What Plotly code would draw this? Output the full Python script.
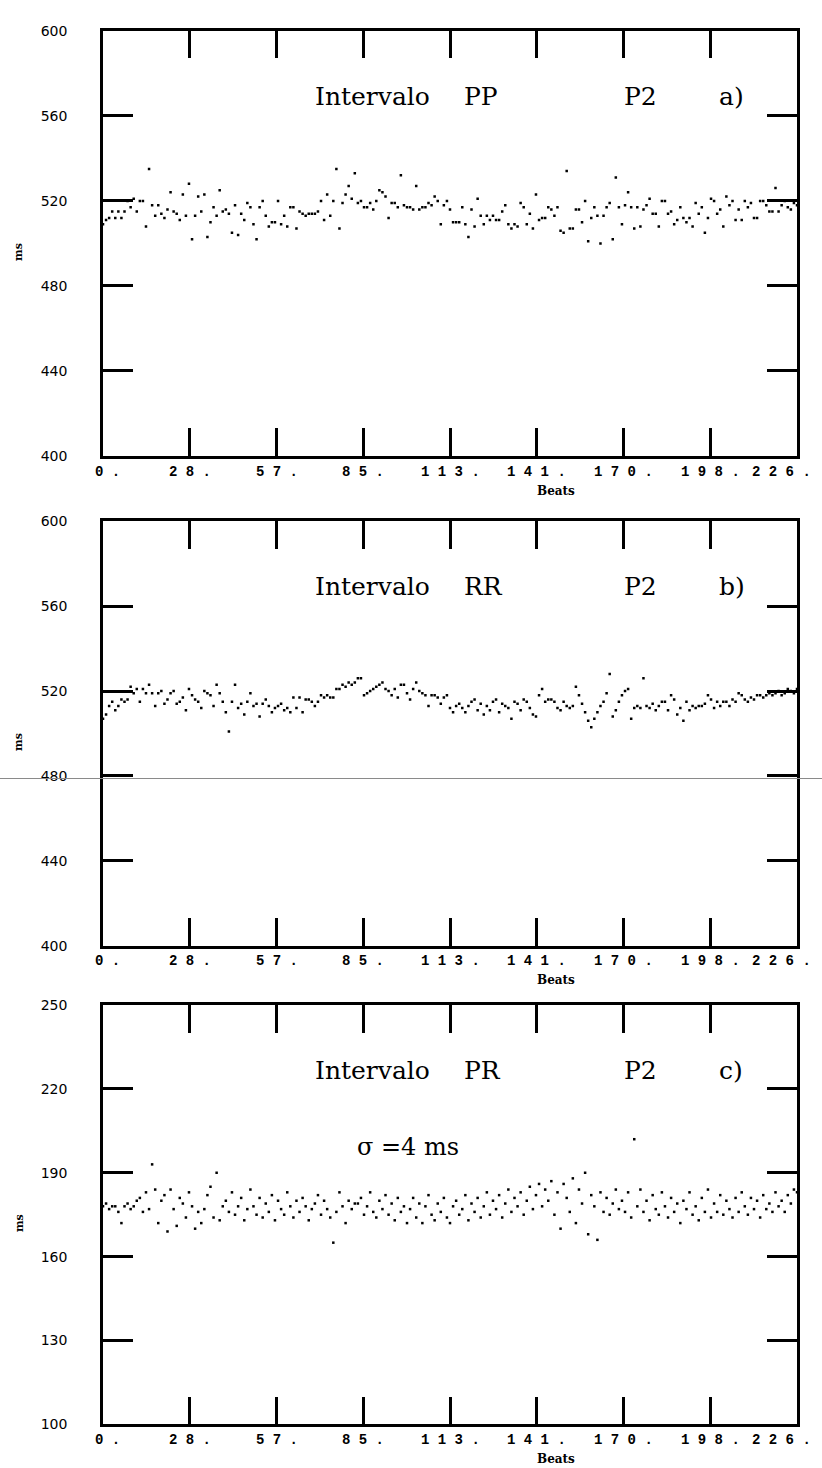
import plotly.graph_objects as go

# Beat-to-beat intervals (ms), patient P2
pp_ms = [509,
    511,512,515,512,515,512,515,520,517,521,515,520,520,508,535,518,513,518,514,512,
    516,524,515,514,511,523,513,528,502,513,522,515,523,503,510,517,513,525,515,516,
    514,505,518,504,514,511,519,517,509,502,517,520,513,508,510,510,520,509,513,508,
    517,517,507,515,514,513,514,514,514,515,520,511,523,513,520,535,507,519,523,527,
    521,533,519,520,517,517,519,516,520,525,524,522,512,519,519,517,532,518,517,517,
    516,527,516,517,517,519,518,522,520,509,518,520,516,510,510,510,517,
    509,503,516,508,521,513,509,513,511,513,511,511,515,518,509,507,509,508,519,517,
    509,514,507,523,511,512,512,517,516,513,517,506,505,534,507,507,516,516,510,520,
    501,512,517,513,500,513,517,519,502,531,517,509,518,524,517,507,517,508,516,518,
    521,514,514,508,520,520,514,515,509,511,517,512,510,512,508,519,514,517,505,512,
    521,520,514,516,508,522,518,520,511,516,511,520,517,519,512,512,520,520,518,515,
    515,526,515,518,520,517,516,519,518]

rr_ms = [507,509,513,515,511,513,516,515,516,522,519,521,515,521,519,523,519,513,519,520,
    514,516,519,520,514,515,517,511,521,518,516,515,512,520,519,518,513,523,519,515,
    510,501,515,523,512,514,509,515,519,513,514,508,514,516,513,510,512,513,514,511,
    512,510,517,512,517,510,516,516,515,513,515,518,517,518,517,517,521,521,523,522,
    524,523,524,526,526,518,519,520,521,522,523,524,521,520,518,521,517,523,523,519,
    516,521,524,520,519,518,513,518,518,517,514,517,518,512,510,513,
    514,512,510,513,515,516,511,514,509,513,511,515,516,510,514,513,512,507,515,514,
    511,516,515,512,509,508,518,521,515,516,516,515,512,511,515,513,512,513,522,518,
    514,510,506,503,507,510,513,515,519,528,508,511,515,518,520,521,507,512,513,512,
    526,513,512,514,511,513,515,515,511,518,516,509,512,506,515,511,513,512,513,513,
    514,518,516,512,515,513,515,515,513,516,515,519,518,516,515,517,516,518,518,517,
    518,519,518,519,520,518,519,521,520,519,521]

pr_ms = [178,179,177,178,178,176,172,178,179,177,
    178,180,181,176,183,177,193,184,172,180,
    182,169,184,177,171,181,179,174,183,178,
    170,176,172,177,182,185,174,190,173,178,
    180,176,183,175,178,181,173,177,184,178,
    175,181,174,179,176,182,173,180,177,175,
    183,178,174,180,176,181,178,173,177,179,
    182,175,180,177,174,165,176,183,178,172,
    180,177,179,179,181,175,178,183,176,174,
    180,177,182,175,179,173,181,176,178,172,
    177,181,174,179,172,178,182,175,173,179,
    176,181,174,172,178,180,175,177,182,173,
    179,176,181,174,178,183,175,180,177,182,
    174,179,184,176,181,178,183,175,180,185,
    177,182,186,178,184,180,187,175,183,170,
    186,181,176,188,172,184,179,190,168,182,
    178,166,183,176,181,175,179,184,177,180,
    176,183,174,202,178,184,176,180,173,182,
    177,175,183,178,174,181,176,179,172,180,
    177,183,175,178,173,181,176,184,174,179,
    176,182,175,180,177,174,181,176,183,178,
    175,181,177,180,174,182,177,179,176,183,
    178,180,176,182,179,184,183]

x_tickvals = [0, 28.25, 56.5, 84.75, 113, 141.25, 169.5, 197.75, 226]
x_ticktext = ["0.", "28.", "57.", "85.", "113.", "141.", "170.", "198.", "226."]

panels = [
    dict(values=pp_ms, label="PP", tag="a)", yrange=[400, 600], yticks=[400, 440, 480, 520, 560, 600]),
    dict(values=rr_ms, label="RR", tag="b)", yrange=[400, 600], yticks=[400, 440, 480, 520, 560, 600]),
    dict(values=pr_ms, label="PR", tag="c)", yrange=[100, 250], yticks=[100, 130, 160, 190, 220, 250]),
]

W, H = 822, 1468
X0, X1 = 103, 797
panel_px = [(23, 453), (519, 948), (1008, 1432)]

def py(p):
    return 1 - p / H

def beat_px(b):
    return X0 + (X1 - X0) * b / 226

fig = go.Figure()
annotations = []
shapes = []
layout_axes = {}

for i, (panel, (top, bot)) in enumerate(zip(panels, panel_px)):
    n = i + 1
    xa = "x" if n == 1 else f"x{n}"
    ya = "y" if n == 1 else f"y{n}"
    vals = panel["values"]
    fig.add_trace(go.Scatter(
        x=list(range(len(vals))), y=vals, mode="markers",
        marker=dict(size=2.5, color="black", symbol="square"),
        xaxis=xa, yaxis=ya, showlegend=False, hoverinfo="skip"))

    layout_axes[f"xaxis{'' if n == 1 else n}"] = dict(
        domain=[X0 / W, X1 / W], range=[0, 226], anchor=ya,
        showline=True, linecolor="black", linewidth=2.5, mirror="ticks",
        ticks="inside", ticklen=28, tickwidth=2.5, tickcolor="black",
        tickvals=x_tickvals, showticklabels=False, showgrid=False, zeroline=False,
    )
    layout_axes[f"yaxis{'' if n == 1 else n}"] = dict(
        domain=[py(bot), py(top)], range=panel["yrange"], anchor=xa,
        showline=True, linecolor="black", linewidth=2.5, mirror="ticks",
        ticks="inside", ticklen=30, tickwidth=2.5, tickcolor="black",
        tickvals=panel["yticks"], ticktext=[str(v) for v in panel["yticks"]],
        showgrid=False, zeroline=False,
        tickfont=dict(family="DejaVu Sans", size=14, color="black"),
        ticklabelstandoff=30,
    )

    # beat labels under the axis, letter-spaced; the end labels sit inside the frame
    for tv, tt in zip(x_tickvals, x_ticktext):
        cx = beat_px(tv)
        if tv == 0:
            cx += 4
        elif tv == 226:
            cx -= 16
        annotations.append(dict(
            text="<b>" + " ".join(tt) + "</b>", x=cx / W, y=py(bot + 16),
            xref="paper", yref="paper", xanchor="center", yanchor="middle",
            showarrow=False,
            font=dict(family="Liberation Mono", size=14, color="black")))

    text_y = py(top + 66)
    for txt, xpx in [("Intervalo", 313), (panel["label"], 462), ("P2", 622), (panel["tag"], 717)]:
        annotations.append(dict(
            text=txt, x=xpx / W, y=text_y, xref="paper", yref="paper",
            xanchor="left", yanchor="middle", showarrow=False,
            font=dict(family="DejaVu Serif", size=25, color="black")))

    annotations.append(dict(
        text="<b>Beats</b>", x=556 / W, y=py(bot + 35), xref="paper", yref="paper",
        xanchor="center", yanchor="middle", showarrow=False,
        font=dict(family="DejaVu Serif", size=12, color="black")))
    annotations.append(dict(
        text="<b>ms</b>", x=19 / W, y=py(top + 0.52 * (bot - top)), xref="paper", yref="paper",
        xanchor="center", yanchor="middle", showarrow=False, textangle=-90,
        font=dict(family="DejaVu Serif", size=11, color="black")))

annotations.append(dict(
    text="σ =4 ms", x=355 / W, y=py(1152), xref="paper", yref="paper",
    xanchor="left", yanchor="middle", showarrow=False,
    font=dict(family="DejaVu Serif", size=24, color="black")))

# faint horizontal scan line across the page at the 480 level of the middle panel
shapes.append(dict(type="line", xref="paper", yref="paper", x0=0, x1=1,
                   y0=py(779), y1=py(779), line=dict(color="#8a8a8a", width=1)))

fig.update_layout(
    width=W, height=H, margin=dict(l=0, r=0, t=0, b=0),
    paper_bgcolor="white", plot_bgcolor="white",
    annotations=annotations, shapes=shapes, **layout_axes)

fig.write_html("out.html", post_script="document.body.style.margin='0px';")
